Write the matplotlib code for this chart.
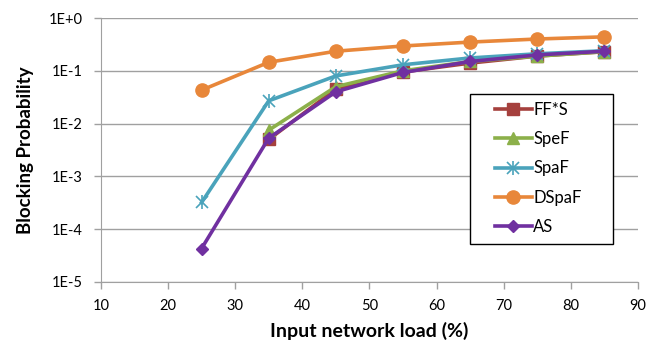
import numpy as np
import matplotlib
matplotlib.use('Agg')
import matplotlib.pyplot as plt
from matplotlib.patches import Rectangle
from matplotlib.ticker import FuncFormatter, LogLocator, NullLocator

plt.rcParams['font.family'] = ['Lato', 'DejaVu Sans']

# 数据
load = [25, 35, 45, 55, 65, 75, 85]
ffs = [np.nan, 5.0e-3, 4.5e-2, 0.095, 0.14, 0.19, 0.23]
spef = [np.nan, 7.5e-3, 5.0e-2, 0.10, 0.15, 0.19, 0.23]
spaf = [3.2e-4, 2.7e-2, 8.0e-2, 0.13, 0.175, 0.21, 0.24]
dspaf = [4.3e-2, 0.145, 0.235, 0.295, 0.35, 0.40, 0.44]
as_ = [4.3e-5, 5.3e-3, 4.0e-2, 0.093, 0.15, 0.20, 0.235]

series = [
    ('FF*S', ffs, '#A5403D', 's', 8),
    ('SpeF', spef, '#8CB04A', '^', 8),
    ('SpaF', spaf, '#4AA3BB', 'x', 8),
    ('DSpaF', dspaf, '#E8873A', 'o', 9.5),
    ('AS', as_, '#7030A0', 'D', 6.5),
]

fig = plt.figure(figsize=(6.55, 3.43), dpi=100)
ax = fig.add_axes([0.154, 0.178, 0.82, 0.7695])

handles = []
for name, vals, c, m, ms in series:
    if m == 'x':
        ln, = ax.plot(load, vals, color=c, linewidth=2.6, marker='x',
                      markersize=ms, markeredgewidth=1.2, label=name)
        bar, = ax.plot(load, vals, color=c, linestyle='none', marker='|',
                       markersize=ms + 2, markeredgewidth=1.2)
        handles.append((ln, bar))
    else:
        ln, = ax.plot(load, vals, color=c, linewidth=2.6, marker=m,
                      markersize=ms, markeredgecolor=c, label=name)
        handles.append(ln)

ax.set_yscale('log')
ax.set_ylim(1e-5, 1)
ax.set_xlim(10, 90)
ax.set_xticks(range(10, 91, 10))
ax.yaxis.set_major_locator(LogLocator(base=10, numticks=10))
ax.yaxis.set_minor_locator(NullLocator())
ax.yaxis.set_major_formatter(FuncFormatter(
    lambda v, p: '1E+0' if round(np.log10(v)) == 0 else f'1E{int(round(np.log10(v)))}'))

ax.grid(True, axis='y', color='#A0A0A0', linewidth=1)
ax.set_axisbelow(True)
for s in ['top', 'right']:
    ax.spines[s].set_visible(False)
for s in ['left', 'bottom']:
    ax.spines[s].set_color('#A0A0A0')
ax.tick_params(axis='both', colors='#A0A0A0', labelcolor='black', labelsize=10.5,
               length=5, width=1)
ax.tick_params(axis='x', pad=7)
ax.tick_params(axis='y', pad=8)

ax.set_xlabel('Input network load (%)', fontsize=14, fontweight='bold', labelpad=7)
ax.set_ylabel('Blocking Probability', fontsize=13.5, fontweight='bold', labelpad=11)

# 图例外框
ax.add_patch(Rectangle((0.687, 0.144), 0.266, 0.568, transform=ax.transAxes,
                       facecolor='white', edgecolor='black', linewidth=1, zorder=5))
leg = ax.legend(handles, [s[0] for s in series], loc='upper left',
                bbox_to_anchor=(0.734, 0.683), frameon=False, fontsize=12,
                handlelength=2.2, handletextpad=0.1, borderpad=0, borderaxespad=0,
                labelspacing=0.8)
leg.set_zorder(6)

plt.savefig('out.png', dpi=100)
